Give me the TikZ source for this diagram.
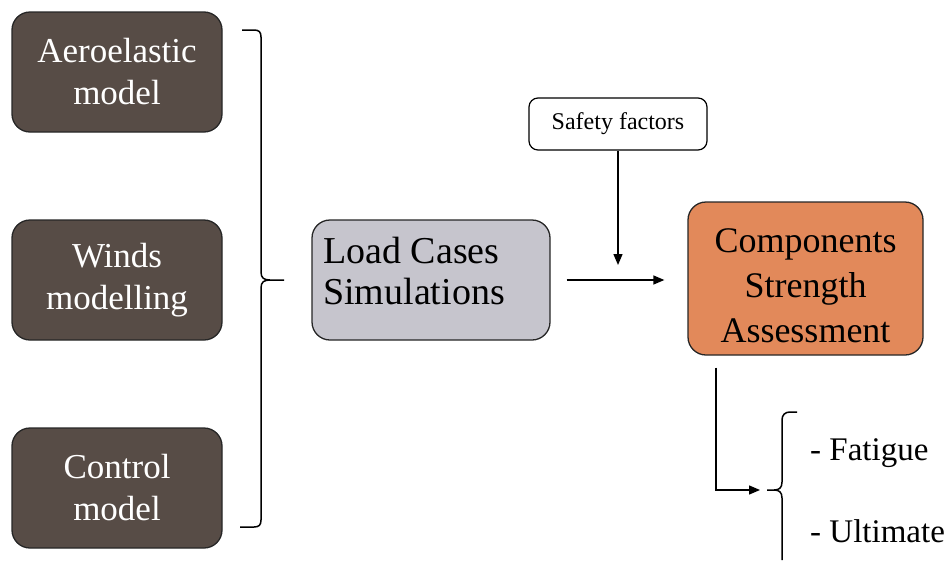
\documentclass[tikz,border=0pt]{standalone}
\usepackage{fontspec}
\setmainfont{LiberationSerif}[Extension=.ttf, UprightFont=*-Regular, BoldFont=*-Bold]
\usetikzlibrary{arrows.meta}
\definecolor{modelfill}{HTML}{574C46}
\definecolor{simfill}{HTML}{C6C5CD}
\definecolor{assessfill}{HTML}{E2895A}
\tikzset{
  every node/.style={inner sep=0pt},
  inputbox/.style={draw=black!85, line width=1.3pt, fill=modelfill, rounded corners=18pt,
    minimum width=210pt, minimum height=120pt, align=center, text=white,
    font=\fontsize{35}{42}\selectfont},
  simbox/.style={draw=black!85, line width=1.3pt, fill=simfill, rounded corners=18pt,
    minimum width=238pt, minimum height=120pt},
  simtext/.style={anchor=base west, font=\fontsize{38}{40}\selectfont},
  assessbox/.style={draw=black!85, line width=1.3pt, fill=assessfill, rounded corners=18pt,
    minimum width=235pt, minimum height=153pt},
  assesstext/.style={align=center, font=\fontsize{36}{45}\selectfont},
  factorbox/.style={draw=black, line width=1.2pt, fill=white, rounded corners=9pt,
    minimum width=178pt, minimum height=52pt, font=\fontsize{24}{28}\selectfont},
  flow/.style={line width=1.4pt, -{Triangle[length=11pt,width=9pt]}},
  bracket/.style={line width=1.5pt, line join=round},
  itemtext/.style={anchor=base west, font=\fontsize{33}{40}\selectfont}
}
\begin{document}
\begin{tikzpicture}[x=1pt,y=-1pt]
  \useasboundingbox (0,0) rectangle (950,560);

  % input models
  \node[inputbox] (aero) at (117,72) {Aeroelastic\\model};
  \node[inputbox] (wind) at (117,280) {Winds\\modelling};
  \node[inputbox] (ctrl) at (117,488) {Control\\model};

  % bracket gathering the three models
  \coordinate (gather) at (284,280);
  \draw[bracket] (242,30) -- (254,30) .. controls (259,30) and (261,32) .. (261,37)
    -- (261,272) .. controls (261,278) and (264,280) .. (270,280) -- (gather)
    (270,280) .. controls (264,280) and (261,282) .. (261,288)
    -- (261,520) .. controls (261,525) and (259,527) .. (254,527) -- (240,527);

  % load case simulations
  \node[simbox] (sim) at (431,280) {};
  \node[simtext] (simA) at (323,263) {Load Cases};
  \node[simtext] (simB) at (323,304) {Simulations};

  % safety factors and assessment
  \node[factorbox] (sf) at (618,124) {Safety factors};
  \node[assessbox] (comp) at (805.5,278.5) {};
  \node[assesstext] (compText) at (805.5,286) {Components\\Strength\\Assessment};

  \coordinate (join) at (618,265);
  \draw[flow] ([xshift=16pt]sim.east) -- ([xshift=-23pt]comp.west |- sim.east);
  \draw[flow] (sf.south) -- (join);

  % failure modes
  \coordinate (tip) at (767,490);
  \draw[bracket] (797,412) -- (790,412) .. controls (785,412) and (782,415) .. (782,420)
    -- (782,482) .. controls (782,488) and (779,490) .. (774,490) -- (tip)
    (774,490) .. controls (779,490) and (782,492) .. (782,498) -- (782,560);
  \draw[flow] ([yshift=-12pt]comp.south -| 716,0) |- ([xshift=-7pt]tip);

  \node[itemtext] (fat) at (810,460) {- Fatigue};
  \node[itemtext] (ult) at (810,542) {- Ultimate};
\end{tikzpicture}
\end{document}
